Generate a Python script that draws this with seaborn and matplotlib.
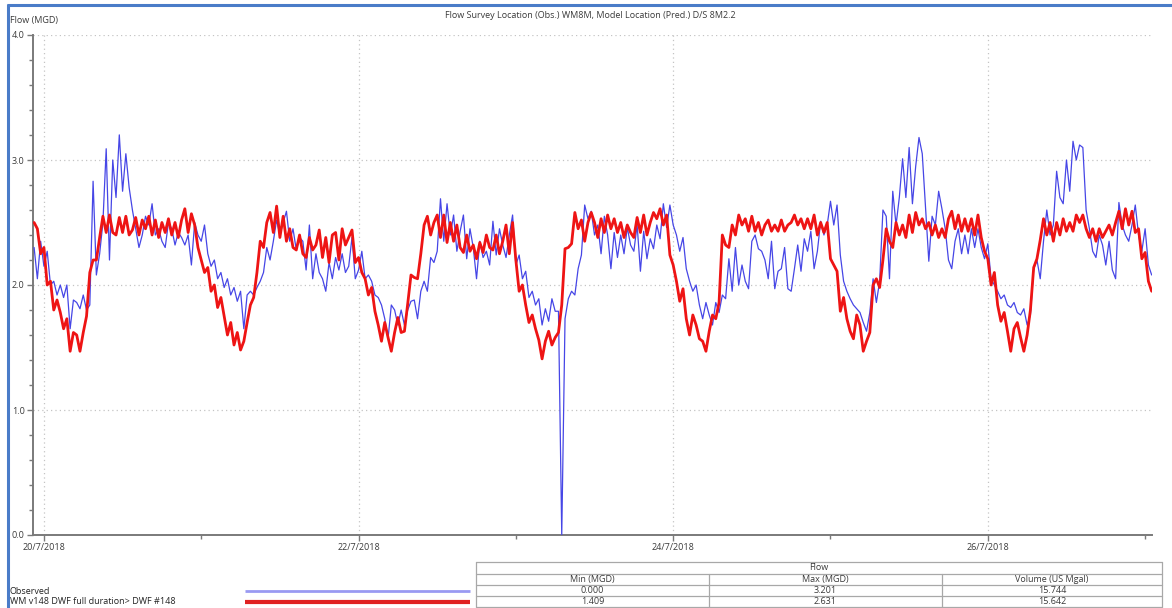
import pandas as pd
import matplotlib
matplotlib.use("Agg")
import matplotlib.pyplot as plt
import matplotlib.dates as mdates
from matplotlib.ticker import MultipleLocator, FixedLocator, FuncFormatter
import seaborn as sns

# Half-hourly flow readings (MGD), 19/7/2018 22:30 onwards
observed = [
    2.30, 2.05, 2.35, 2.15, 2.27, 2.00, 2.03, 1.92, 2.00, 1.90,
    2.00, 1.65, 1.88, 1.86, 1.81, 1.92, 1.80, 1.84, 2.83, 2.08,
    2.25, 2.50, 3.09, 2.20, 3.00, 2.70, 3.201, 2.75, 3.05, 2.78,
    2.60, 2.45, 2.30, 2.40, 2.55, 2.48, 2.65, 2.40, 2.45, 2.35,
    2.30, 2.50, 2.45, 2.32, 2.42, 2.38, 2.32, 2.40, 2.16, 2.50,
    2.40, 2.35, 2.48, 2.25, 2.15, 2.20, 2.05, 2.10, 1.98, 2.05,
    1.92, 1.98, 1.87, 1.95, 1.65, 1.92, 1.95, 1.92, 1.98, 2.03,
    2.10, 2.30, 2.20, 2.35, 2.52, 2.40, 2.50, 2.59, 2.35, 2.45,
    2.28, 2.38, 2.35, 2.12, 2.48, 2.05,
    2.25, 2.10, 2.05, 1.95, 2.18, 2.05, 2.22, 2.12, 2.25, 2.10,
    2.15, 2.38, 2.05, 2.12, 2.27, 2.05, 2.08, 2.03, 1.92, 1.90,
    1.84, 1.73, 1.57, 1.84, 1.80, 1.68, 1.80, 1.68, 1.80, 1.87,
    1.88, 1.73, 1.95, 2.03, 1.95, 2.22, 2.18, 2.27, 2.69, 2.35,
    2.65, 2.40, 2.56, 2.27, 2.43, 2.56, 2.21, 2.45, 2.30, 2.05,
    2.35, 2.22, 2.27, 2.16, 2.51, 2.24, 2.45, 2.32, 2.22, 2.40,
    2.56, 2.16, 2.24, 2.05, 2.11, 1.90, 1.95, 1.84, 1.89, 1.68,
    1.81, 1.71, 1.89, 1.79, 1.79, 0.00, 1.73, 1.89, 1.95, 1.92,
    2.13, 2.24, 2.64, 2.53, 2.59,
    2.40, 2.48, 2.25, 2.55, 2.40, 2.13, 2.42, 2.22, 2.40, 2.25,
    2.46, 2.32, 2.27, 2.48, 2.11, 2.43, 2.21, 2.37, 2.29, 2.48,
    2.37, 2.65, 2.46, 2.64, 2.48, 2.40, 2.27, 2.38, 2.13, 2.03,
    1.95, 2.00, 1.84, 1.73, 1.86, 1.76, 1.68, 1.86, 1.78, 1.92,
    1.89, 2.21, 1.95, 2.30, 2.00, 2.16, 2.03, 1.97, 2.35, 2.40,
    2.29, 2.27, 2.20, 2.05, 2.35, 1.97, 2.11, 2.13, 2.30, 1.97,
    1.95, 2.13, 2.32, 2.11, 2.37, 2.27, 2.43, 2.13, 2.27, 2.51,
    2.40, 2.48, 2.67, 2.48, 2.64, 2.24, 2.03, 1.95, 1.89, 1.84,
    1.81, 1.78, 1.70, 1.63, 1.78,
    2.05, 1.86, 2.03, 2.60, 2.55, 2.05, 2.75, 2.48, 2.70, 3.01,
    2.70, 3.10, 2.65, 2.95, 3.18, 3.05, 2.62, 2.19, 2.55, 2.48,
    2.75, 2.61, 2.45, 2.20, 2.13, 2.35, 2.45, 2.25, 2.40, 2.25,
    2.45, 2.30, 2.45, 2.30, 2.21, 2.33, 2.05, 2.00, 1.95, 1.89,
    1.92, 1.84, 1.82, 1.86, 1.78, 1.76, 1.81, 1.68, 1.76, 2.13,
    2.20, 2.05, 2.35, 2.60, 2.40, 2.48, 2.91, 2.70, 2.65, 3.00,
    2.75, 3.15, 3.00, 3.12, 3.10, 2.60, 2.45, 2.27, 2.22, 2.40,
    2.32, 2.16, 2.35, 2.12, 2.05, 2.66, 2.48, 2.40, 2.35, 2.48,
    2.64, 2.40, 2.27, 2.45, 2.16, 2.08,
]

predicted = [
    2.50, 2.45, 2.25, 2.30, 2.00, 2.03, 1.80, 1.88, 1.78, 1.65,
    1.73, 1.47, 1.62, 1.60, 1.47, 1.62, 1.75, 2.10, 2.20, 2.20,
    2.38, 2.55, 2.42, 2.56, 2.42, 2.40, 2.54, 2.42, 2.55, 2.40,
    2.44, 2.54, 2.40, 2.52, 2.45, 2.55, 2.40, 2.52, 2.38, 2.50,
    2.42, 2.53, 2.40, 2.50, 2.38, 2.52, 2.61, 2.42, 2.57, 2.48,
    2.30, 2.20, 2.10, 2.14, 1.95, 2.00, 1.82, 1.90, 1.75, 1.60,
    1.70, 1.52, 1.62, 1.48, 1.55, 1.70, 1.84, 1.90, 2.10, 2.35,
    2.30, 2.50, 2.58, 2.42, 2.631, 2.38, 2.55, 2.35, 2.45, 2.30,
    2.28, 2.40, 2.25, 2.22, 2.38, 2.28,
    2.32, 2.44, 2.22, 2.38, 2.18, 2.40, 2.42, 2.20, 2.45, 2.32,
    2.38, 2.44, 2.18, 2.22, 2.10, 2.05, 1.92, 1.98, 1.79, 1.68,
    1.55, 1.70, 1.58, 1.47, 1.62, 1.74, 1.62, 1.63, 1.85, 2.08,
    2.06, 2.05, 2.25, 2.48, 2.55, 2.40, 2.50, 2.56, 2.38, 2.56,
    2.34, 2.50, 2.35, 2.48, 2.30, 2.26, 2.40, 2.27, 2.32, 2.21,
    2.34, 2.26, 2.40, 2.30, 2.28, 2.40, 2.25, 2.35, 2.48, 2.25,
    2.50, 2.20, 1.95, 2.00, 1.84, 1.70, 1.76, 1.65, 1.56, 1.409,
    1.55, 1.63, 1.52, 1.58, 1.62, 1.84, 2.29, 2.30, 2.33, 2.58,
    2.45, 2.52, 2.35, 2.50, 2.58,
    2.50, 2.38, 2.53, 2.42, 2.56, 2.45, 2.53, 2.42, 2.50, 2.38,
    2.48, 2.42, 2.38, 2.54, 2.42, 2.56, 2.40, 2.50, 2.58, 2.53,
    2.61, 2.48, 2.56, 2.24, 2.16, 2.03, 1.87, 1.97, 1.73, 1.60,
    1.76, 1.68, 1.57, 1.55, 1.47, 1.63, 1.76, 1.73, 1.86, 2.40,
    2.32, 2.30, 2.48, 2.40, 2.56, 2.48, 2.53, 2.43, 2.55, 2.43,
    2.50, 2.40, 2.48, 2.52, 2.43, 2.48, 2.43, 2.52, 2.43, 2.48,
    2.50, 2.56, 2.48, 2.53, 2.45, 2.53, 2.45, 2.56, 2.40, 2.50,
    2.42, 2.50, 2.21, 2.16, 2.11, 1.79, 1.90, 1.73, 1.63, 1.57,
    1.76, 1.68, 1.47, 1.55, 1.62,
    2.00, 2.05, 1.98, 2.20, 2.45, 2.35, 2.30, 2.50, 2.40, 2.48,
    2.38, 2.56, 2.42, 2.58, 2.48, 2.53, 2.45, 2.50, 2.40, 2.48,
    2.38, 2.45, 2.38, 2.53, 2.59, 2.45, 2.56, 2.43, 2.53, 2.43,
    2.53, 2.40, 2.56, 2.38, 2.27, 2.21, 2.00, 2.10, 1.84, 1.71,
    1.78, 1.63, 1.47, 1.65, 1.70, 1.58, 1.47, 1.60, 1.80, 2.14,
    2.21, 2.36, 2.53, 2.40, 2.50, 2.35, 2.50, 2.40, 2.53, 2.43,
    2.50, 2.43, 2.56, 2.50, 2.56, 2.45, 2.38, 2.45, 2.35, 2.45,
    2.38, 2.43, 2.48, 2.40, 2.50, 2.59, 2.45, 2.61, 2.48, 2.59,
    2.42, 2.45, 2.21, 2.26, 2.03, 1.95,
]

series_start = "2018-07-19 22:30"
series_step = "30min"
series_labels = ["Observed", "WM v148 DWF full duration> DWF #148"]
chart_title = "Flow Survey Location (Obs.) WM8M, Model Location (Pred.) D/S 8M2.2"
y_label = "Flow (MGD)"
major_days = ["2018-07-20", "2018-07-22", "2018-07-24", "2018-07-26"]
minor_days = ["2018-07-21", "2018-07-23", "2018-07-25", "2018-07-27"]
table_group = "Flow"
table_columns = ["Min (MGD)", "Max (MGD)", "Volume (US Mgal)"]
table_rows = [
    ["0.000", "3.201", "15.744"],
    ["1.409", "2.631", "15.642"],
]

times = pd.date_range(series_start, periods=len(observed), freq=series_step)
df = pd.DataFrame({"time": times, "observed": observed, "predicted": predicted})

sns.set_theme(style="white")
plt.rcParams["font.family"] = ["Open Sans", "DejaVu Sans"]

TXT = "#3a3a3a"
BLUE = "#4646e6"
RED = "#ee1414"
W, H = 1172, 608

fig = plt.figure(figsize=(W / 100, H / 100), dpi=100)
fig.patch.set_facecolor("white")

ax = fig.add_axes([33 / W, 73 / H, (1152 - 33) / W, 500 / H])
sns.lineplot(data=df, x="time", y="observed", color=BLUE, lw=0.9, ax=ax,
             estimator=None, zorder=3)
sns.lineplot(data=df, x="time", y="predicted", color=RED, lw=2.0, ax=ax,
             estimator=None, zorder=4)

ax.set_xlim(pd.Timestamp("2018-07-19 22:20"), pd.Timestamp("2018-07-27 01:03"))
ax.set_ylim(0, 4)
ax.set_xlabel("")
ax.set_ylabel("")

ax.xaxis.set_major_locator(FixedLocator(mdates.date2num(pd.to_datetime(major_days))))
ax.xaxis.set_minor_locator(FixedLocator(mdates.date2num(pd.to_datetime(minor_days))))
ax.xaxis.set_major_formatter(FuncFormatter(
    lambda v, _: (lambda d: f"{d.day}/{d.month}/{d.year}")(mdates.num2date(v))))
ax.yaxis.set_major_locator(MultipleLocator(1.0))
ax.yaxis.set_minor_locator(MultipleLocator(0.2))
ax.yaxis.set_major_formatter(FuncFormatter(lambda v, _: f"{v:.1f}"))

ax.tick_params(which="both", direction="out", color="#7a7a7a", labelsize=6.5,
               labelcolor=TXT, width=1, left=True, bottom=True)
ax.tick_params(which="major", length=4, pad=2)
ax.tick_params(which="minor", length=3)
ax.grid(True, which="major", linestyle=(0, (1, 2.5)), color="#c4c4c4", lw=0.9)
ax.set_axisbelow(True)
for side in ("top", "right"):
    ax.spines[side].set_visible(False)
for side in ("left", "bottom"):
    ax.spines[side].set_color("#7a7a7a")
    ax.spines[side].set_linewidth(1.4)

# Overlay in pixel coordinates for the frame, captions, legend and summary table
ov = fig.add_axes([0, 0, 1, 1], zorder=5)
ov.set_xlim(0, W)
ov.set_ylim(H, 0)
ov.axis("off")
ov.patch.set_alpha(0)

frame = "#4a7cc8"
ov.plot([8, 8], [4, H], color=frame, lw=2.2, solid_capstyle="butt")
ov.plot([7, W], [5, 5], color=frame, lw=2.2, solid_capstyle="butt")

ov.text(590, 15, chart_title, ha="center", va="center", fontsize=6.5, color=TXT)
ov.text(10, 21, y_label, ha="left", va="center", fontsize=6.5, color=TXT)

# Legend rows
ov.text(10, 591, series_labels[0], ha="left", va="center", fontsize=6.5, color="#222222")
ov.text(10, 602, series_labels[1], ha="left", va="center", fontsize=6.5, color="#222222")
ov.plot([245, 470], [591, 591], color="#9a9af2", lw=2.0, solid_capstyle="butt")
ov.plot([245, 470], [602, 602], color="#e02222", lw=3.0, solid_capstyle="butt")

# Summary table
grid_c = "#a8a8a8"
tx0, tx1 = 476, 1162
col_edges = [476, 709, 942, 1162]
row_edges = [562, 574, 585, 596, 607]
for y in row_edges:
    ov.plot([tx0, tx1], [y, y], color=grid_c, lw=0.9)
for x in (tx0, tx1):
    ov.plot([x, x], [row_edges[0], row_edges[-1]], color=grid_c, lw=0.9)
for x in col_edges[1:-1]:
    ov.plot([x, x], [row_edges[1], row_edges[-1]], color=grid_c, lw=0.9)

ov.text((tx0 + tx1) / 2, (row_edges[0] + row_edges[1]) / 2, table_group,
        ha="center", va="center", fontsize=6.5, color=TXT)
for c, name in enumerate(table_columns):
    cx = (col_edges[c] + col_edges[c + 1]) / 2
    ov.text(cx, (row_edges[1] + row_edges[2]) / 2, name, ha="center", va="center",
            fontsize=6.5, color=TXT)
    for r, row in enumerate(table_rows):
        cy = (row_edges[2 + r] + row_edges[3 + r]) / 2
        ov.text(cx, cy, row[c], ha="center", va="center", fontsize=6.5, color=TXT)

fig.savefig("out.png", dpi=100, facecolor="white")
